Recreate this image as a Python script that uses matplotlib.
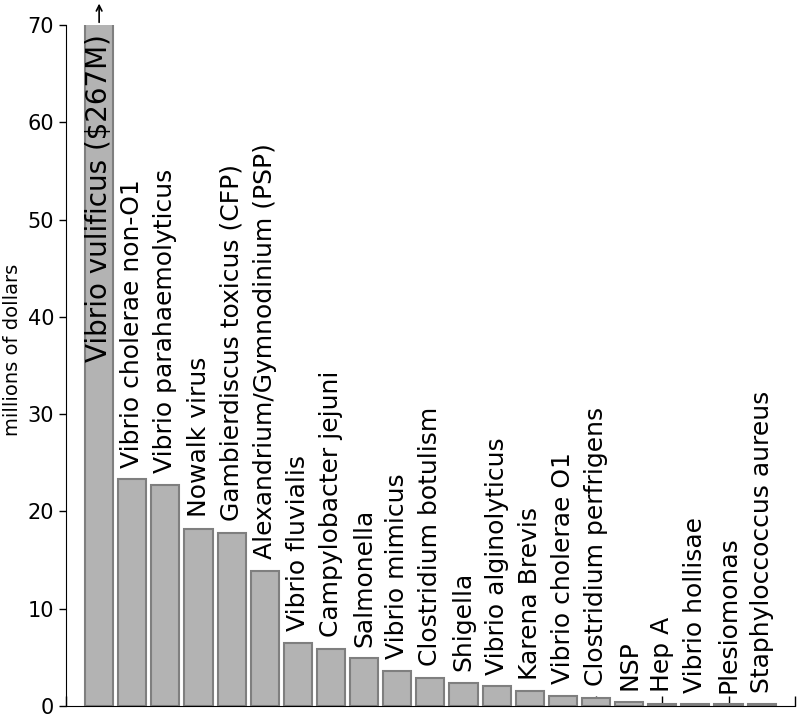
import matplotlib
matplotlib.use("Agg")
import matplotlib.pyplot as plt

# Economic cost of seafood-borne illness by pathogen (millions of dollars)
pathogens = [
    "Vibrio vulificus ($267M)", "Vibrio cholerae non-O1", "Vibrio parahaemolyticus",
    "Nowalk virus", "Gambierdiscus toxicus (CFP)", "Alexandrium/Gymnodinium (PSP)",
    "Vibrio fluvialis", "Campylobacter jejuni", "Salmonella", "Vibrio mimicus",
    "Clostridium botulism", "Shigella", "Vibrio alginolyticus", "Karena Brevis",
    "Vibrio cholerae O1", "Clostridium perfrigens", "NSP", "Hep A",
    "Vibrio hollisae", "Plesiomonas", "Staphyloccoccus aureus",
]
cost = [267, 23.3, 22.7, 18.2, 17.8, 13.9, 6.5, 5.9, 4.9, 3.6, 2.9,
        2.4, 2.0, 1.5, 1.0, 0.8, 0.4, 0.2, 0.15, 0.15, 0.15]
y_ticks = [0, 10, 20, 30, 40, 50, 60, 70]
y_max = 70

fig = plt.figure(figsize=(8, 7.17), dpi=100)
ax = fig.add_axes([0.0825, 0.0155, 0.911, 0.9495])

x = list(range(1, len(cost) + 1))
ax.bar(x, cost, width=0.85, color="#b3b3b3", edgecolor="#7f7f7f", linewidth=1.5)

ax.set_xlim(0, 22)
ax.set_ylim(0, y_max)

# labels above each bar, the clipped one inside its bar
for xi, v, name in zip(x, cost, pathogens):
    if v > y_max:
        ax.text(xi, y_max - 0.9, name, rotation=90, ha="center", va="top",
                fontsize=20)
        ax.annotate("", xy=(xi, y_max + 2.5), xytext=(xi, y_max),
                    arrowprops=dict(arrowstyle="->", color="black", lw=1.2),
                    annotation_clip=False)
    else:
        ax.text(xi, v + 1.2, name, rotation=90, ha="center", va="bottom",
                fontsize=18)

ax.set_axisbelow(True)
ax.set_yticks(y_ticks)
ax.set_xticks(range(0, 23, 2))
ax.set_xticklabels([])
ax.tick_params(axis="y", direction="out", length=5, width=1, labelsize=15)
ax.tick_params(axis="x", direction="in", length=7.5, width=1)
ax.spines["top"].set_visible(False)
ax.spines["right"].set_visible(False)
fig.text(13 / 800, 1 - 350 / 717, "millions of dollars", rotation=90,
         ha="center", va="center", fontsize=14)

fig.savefig("out.png", dpi=100)
